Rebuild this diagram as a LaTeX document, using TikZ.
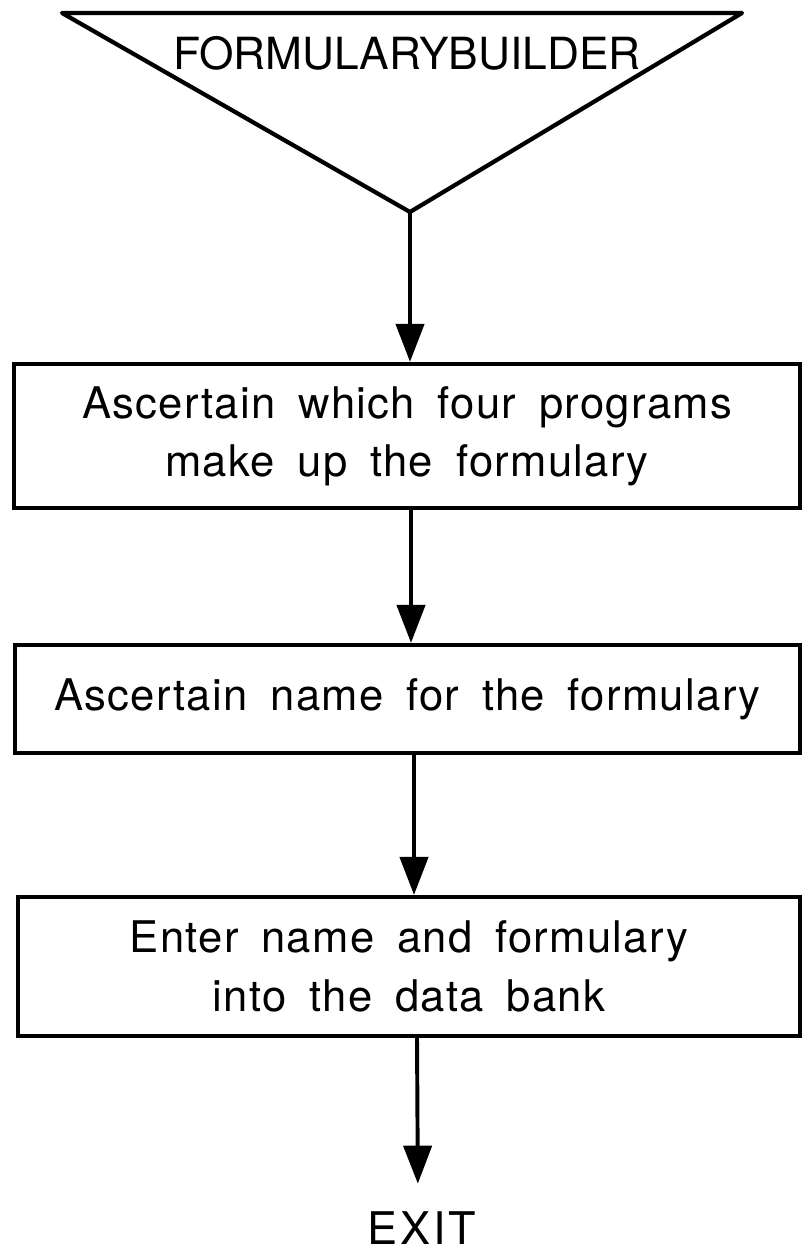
\documentclass[tikz,border=0pt]{standalone}
\usepackage{fontspec}
\setmainfont{TeX Gyre Heros}
\newfontfamily\boxfont[LetterSpace=3,WordSpace=1.7]{TeX Gyre Heros}
\newfontfamily\exitfont[LetterSpace=6]{TeX Gyre Heros}
\usetikzlibrary{arrows.meta}
\begin{document}
\begin{tikzpicture}[x=0.025cm,y=-0.025cm,
  line width=2.8pt,
  boxnode/.style={draw,line width=3pt,rectangle,inner sep=0pt,align=center,
    font=\boxfont\fontsize{31}{41.5}\selectfont},
  arr/.style={line width=2.8pt,-{Triangle[length=27pt,width=20pt]}}]
\useasboundingbox (0,0) rectangle (802,1254);
% start symbol
\coordinate (tl) at (62,13);
\coordinate (tr) at (742,13);
\coordinate (tv) at (410,212);
\draw[line width=3pt,line join=round] (tl) -- (tr) -- (tv) -- cycle;
\node[inner sep=0pt,font=\fontsize{31.5}{36}\selectfont] (title) at (407,53) {FORMULARYBUILDER};
% boxes
\node[boxnode,minimum width=19.65cm,minimum height=3.6cm] (b1) at (407,436)
  {Ascertain which four programs\\make up the formulary};
\node[boxnode,minimum width=19.625cm,minimum height=2.7cm] (b2) at (407.5,699)
  {Ascertain name for the formulary};
\node[boxnode,minimum width=19.55cm,minimum height=3.475cm] (b3) at (409,966.5)
  {Enter name and formulary\\into the data bank};
\node[inner sep=0pt,font=\exitfont\fontsize{32}{40}\selectfont] (exit) at (422,1228) {EXIT};
% connectors
\draw[arr] (tv) -- (tv |- b1.north);
\draw[arr] ([xshift=0.1cm]b1.south) -- ([xshift=0.0875cm]b2.north);
\draw[arr] ([xshift=0.1625cm]b2.south) -- ([xshift=0.125cm]b3.north);
\draw[arr,shorten >=0.65cm] ([xshift=0.2cm]b3.south) -- ([xshift=-0.1cm]exit.north);
\end{tikzpicture}
\end{document}
